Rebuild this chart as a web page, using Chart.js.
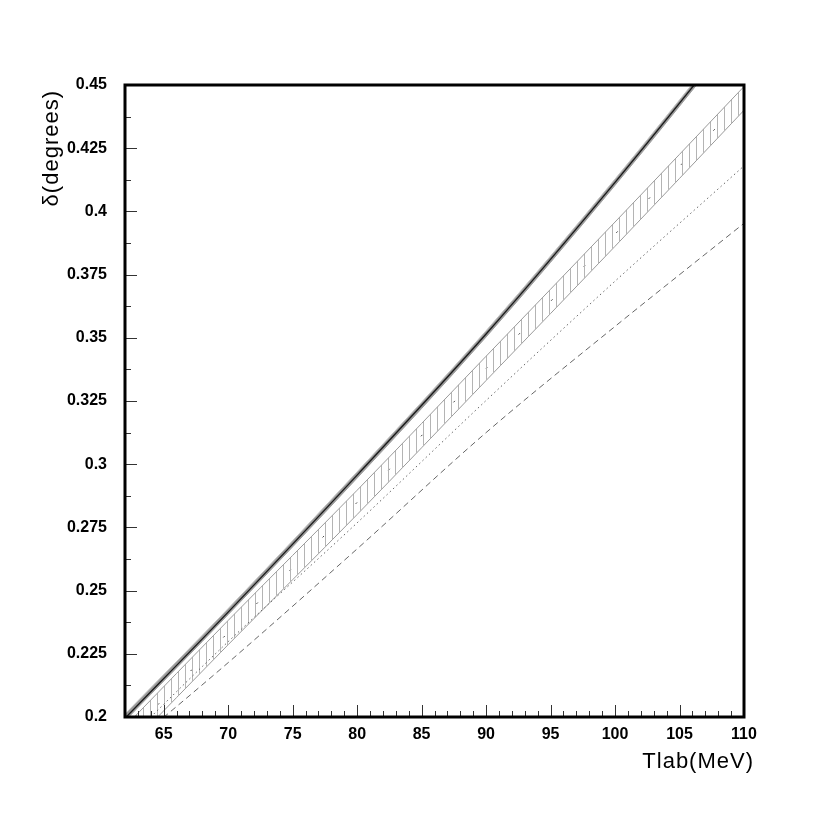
<!DOCTYPE html>
<html>
<head>
<meta charset="utf-8">
<title>delta vs Tlab</title>
<script src="https://cdn.jsdelivr.net/npm/chart.js@4.4.0/dist/chart.umd.min.js"></script>
<style>
body { margin: 0; background: #fff; }
#box { width: 830px; height: 830px; }
</style>
</head>
<body>
<div id="box"><canvas id="phaseChart" width="830" height="830"></canvas></div>
<script>
var tlab = [62, 70, 80, 90, 100, 110];

// grey shaded band: top edge, bottom edge, central curve
var greyHigh = [0.2012, 0.2429, 0.2970, 0.3528, 0.4128, 0.4758];
var greyLow = [0.1985, 0.2405, 0.2945, 0.3503, 0.4103, 0.4733];
var greyMid = [0.1995, 0.2415, 0.2957, 0.3515, 0.4115, 0.4745];

// hatched band: top edge, centre, bottom edge
var hatchHigh = [0.1962, 0.2382, 0.2897, 0.3427, 0.3958, 0.4494];
var hatchMid = [0.1915, 0.2334, 0.2849, 0.3379, 0.3910, 0.4447];
var hatchLow = [0.1867, 0.2286, 0.2801, 0.3331, 0.3862, 0.4400];

// dotted and dashed curves
var dotted = [0.1900, 0.2298, 0.2768, 0.3252, 0.3724, 0.4180];
var dashed = [0.1870, 0.2215, 0.2665, 0.3125, 0.3545, 0.3953];

// tick labels
var xTicks = [65, 70, 75, 80, 85, 90, 95, 100, 105, 110];
var yTicks = [0.2, 0.225, 0.25, 0.275, 0.3, 0.325, 0.35, 0.375, 0.4, 0.425, 0.45];

window.onload = inicializar;

function inicializar() {
  var ctx = document.getElementById("phaseChart");
  drawChart(ctx);
}

function pts(values) {
  var out = [];
  for (var i = 0; i < tlab.length; i++) {
    out.push({ x: tlab[i], y: values[i] });
  }
  return out;
}

function makeHatch() {
  var c = document.createElement("canvas");
  c.width = 7; c.height = 8;
  var g = c.getContext("2d");
  g.strokeStyle = "#b4b4b4";
  g.lineWidth = 1;
  g.beginPath();
  g.moveTo(3.5, 0);
  g.lineTo(3.5, 8);
  g.stroke();
  return g.createPattern(c, "repeat");
}

function line(values, color, width, dash, fill, bg, order) {
  return {
    data: pts(values),
    borderColor: color,
    borderWidth: width,
    borderDash: dash || [],
    fill: fill || false,
    backgroundColor: bg || "transparent",
    pointRadius: 0,
    cubicInterpolationMode: "monotone",
    order: order || 0
  };
}

// ticks pointing into the plot, plus the heavy frame
var framePlugin = {
  id: "frame",
  afterDatasetsDraw: function (chart) {
    var c = chart.ctx, a = chart.chartArea;
    var xs = chart.scales.x, ys = chart.scales.y;
    var v, p, len;
    c.save();
    c.strokeStyle = "#333";
    c.lineWidth = 1;
    c.beginPath();
    for (v = 63; v < 110; v++) {
      p = Math.round(xs.getPixelForValue(v)) + 0.5;
      len = (v % 5 == 0) ? 12 : 6;
      c.moveTo(p, a.bottom);
      c.lineTo(p, a.bottom - len);
    }
    for (v = 1; v < 20; v++) {
      p = Math.round(ys.getPixelForValue(0.2 + v * 0.0125)) + 0.5;
      len = (v % 2 == 0) ? 12 : 6;
      c.moveTo(a.left, p);
      c.lineTo(a.left + len, p);
    }
    c.stroke();
    c.strokeStyle = "#000";
    c.lineWidth = 3;
    c.strokeRect(a.left, a.top, a.right - a.left, a.bottom - a.top);
    c.restore();
  },
  afterDraw: function (chart) {
    var c = chart.ctx, a = chart.chartArea;
    c.save();
    c.fillStyle = "#000";
    c.font = '22px "Liberation Sans"';
    c.letterSpacing = "1px";
    c.textAlign = "right";
    c.textBaseline = "alphabetic";
    c.fillText("Tlab(MeV)", a.right + 10, 768);
    c.translate(58, a.top + 5);
    c.rotate(-Math.PI / 2);
    c.fillText("\u03b4(degrees)", 0, 0);
    c.restore();
  }
};

function drawChart(ctx) {
  var hatch = makeHatch();
  new Chart(ctx, {
    type: "line",
    data: {
      datasets: [
        line(greyHigh, "#c4c4c4", 1, null, "+1", "#9a9a9a", 2),
        line(greyLow, "#a0a0a0", 1, null, false, null, 2),
        line(greyMid, "#1a1a1a", 1.3, null, false, null, -1),
        line(hatchHigh, "#9a9a9a", 1, null, "+2", hatch, 1),
        line(hatchMid, "#444", 1, [2, 45], false, null, 1),
        line(hatchLow, "#9a9a9a", 1, null, false, null, 1),
        line(dotted, "#666", 1, [1.5, 3]),
        line(dashed, "#666", 1, [6, 4])
      ]
    },
    options: {
      responsive: false,
      animation: false,
      layout: { padding: { top: 85, right: 86, left: 0, bottom: 0 } },
      plugins: { legend: { display: false }, tooltip: { enabled: false } },
      scales: {
        x: {
          type: "linear", min: 62, max: 110,
          grid: { display: false, drawTicks: false },
          border: { display: false },
          ticks: {
            padding: 8, color: "#000", maxRotation: 0,
            font: { family: "Liberation Sans", size: 16, weight: "bold" }
          },
          afterBuildTicks: function (s) {
            s.ticks = xTicks.map(function (v) { return { value: v }; });
          },
          afterFit: function (s) { s.height = 113; }
        },
        y: {
          type: "linear", min: 0.2, max: 0.45,
          grid: { display: false, drawTicks: false },
          border: { display: false },
          ticks: {
            padding: 18, color: "#000",
            font: { family: "Liberation Sans", size: 16, weight: "bold" },
            callback: function (v) { return String(+v.toFixed(3)); }
          },
          afterBuildTicks: function (s) {
            s.ticks = yTicks.map(function (v) { return { value: v }; });
          },
          afterFit: function (s) { s.width = 125; }
        }
      }
    },
    plugins: [framePlugin]
  });
}
</script>
</body>
</html>
